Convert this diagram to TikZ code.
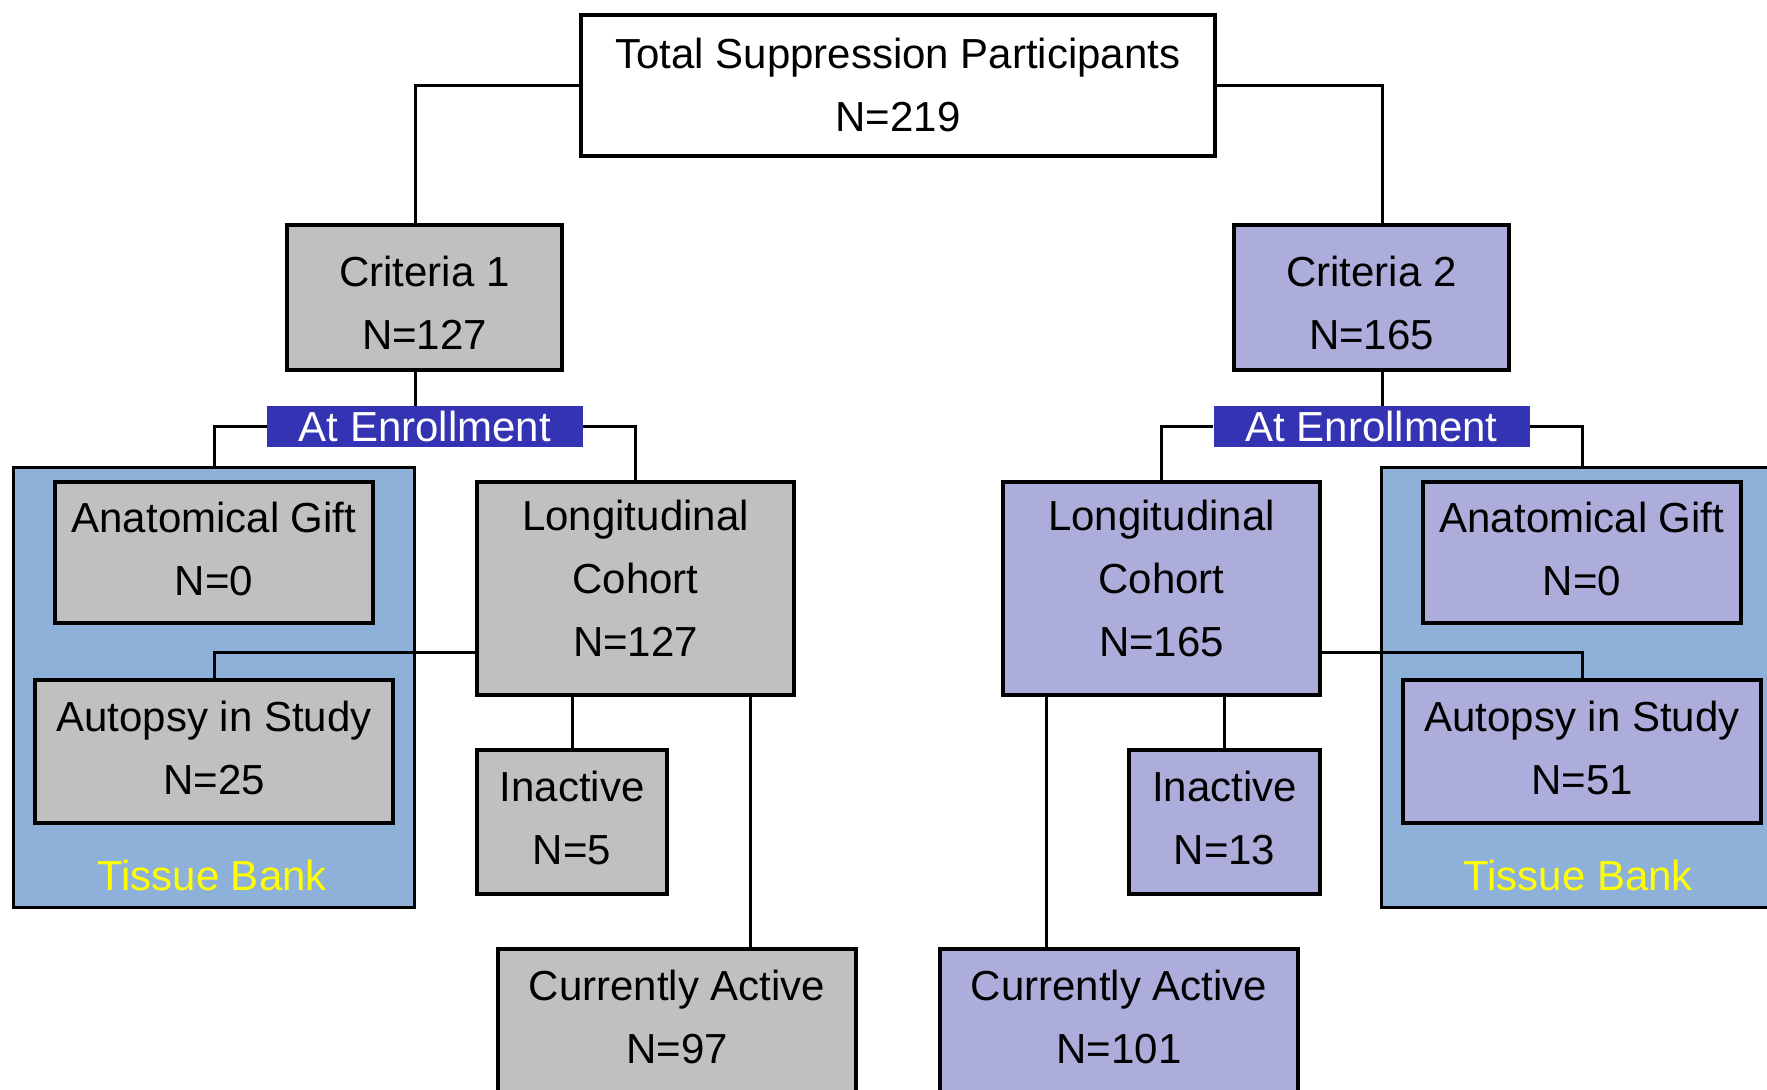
\documentclass[tikz,border=0pt]{standalone}
\usepackage{fontspec}
\setmainfont{Liberation Sans}
\newcommand\boxfont{\fontsize{21pt}{31.5pt}\selectfont}
\definecolor{boxgray}{RGB}{192,192,192}
\definecolor{boxlav}{RGB}{173,173,219}
\definecolor{tissueblue}{RGB}{142,177,218}
\definecolor{enrollblue}{RGB}{51,51,179}
\definecolor{tissueyellow}{RGB}{255,255,0}
\tikzset{
  box/.style={draw=black, line width=1.8pt, inner sep=0pt, align=center, font=\boxfont, text depth=4pt},
  graybox/.style={box, fill=boxgray},
  lavbox/.style={box, fill=boxlav},
  tallbox/.style={text depth=10pt},
  critbox/.style={text height=52pt, text depth=0pt},
  tissue/.style={draw=black, line width=1.5pt, fill=tissueblue, inner sep=0pt},
  tissuelabel/.style={text=tissueyellow, font=\boxfont, inner sep=0pt},
  enroll/.style={fill=enrollblue, text=white, font=\boxfont, inner sep=0pt, minimum width=158pt, minimum height=20.5pt},
  conn/.style={draw=black, line width=1.5pt},
}
\begin{document}
\begin{tikzpicture}[x=0.5pt,y=-0.5pt]
\useasboundingbox (0,0) rectangle (1767,1090);
\clip (0,0) rectangle (1767,1090);
% tissue bank backgrounds
\node[tissue, minimum width=200.75pt, minimum height=219.5pt] (tbL) at (214,687.5) {};
\node[tissue, minimum width=200.75pt, minimum height=219.5pt] (tbR) at (1582.5,687.5) {};
\node[tissuelabel] (tbLtext) at (212,875.5) {Tissue Bank};
\node[tissuelabel] (tbRtext) at (1578,875.5) {Tissue Bank};
% helper coordinates
\coordinate (x1) at (415,0);
\coordinate (x2) at (1382,0);
\coordinate (x3) at (750.5,0);
\coordinate (x4) at (1046,0);
\coordinate (yA) at (0,652.5);
% nodes
\node[box, fill=white, text depth=1pt, minimum width=317pt, minimum height=70.5pt] (top) at (898,85.5) {Total Suppression Participants\\N=219};
\node[graybox, critbox, minimum width=137.5pt, minimum height=72.5pt] (crit1) at (424.5,297.5) {Criteria 1\\N=127};
\node[lavbox, critbox, minimum width=137.5pt, minimum height=72.5pt] (crit2) at (1371.5,297.5) {Criteria 2\\N=165};
\node[enroll] (aeL) at (425,426.5) {At Enrollment};
\node[enroll] (aeR) at (1371.5,426.5) {At Enrollment};
% left branch
\node[graybox, minimum width=159pt, minimum height=70.5pt] (anatL) at (214,552.5) {Anatomical Gift\\N=0};
\node[graybox, tallbox, minimum width=158.5pt, minimum height=106.5pt] (longL) at (635.5,588.5) {Longitudinal\\Cohort\\N=127};
\node[graybox, minimum width=179pt, minimum height=71.5pt] (autoL) at (214,751.5) {Autopsy in Study\\N=25};
\node[graybox, minimum width=95pt, minimum height=72pt] (inL) at (572,822) {Inactive\\N=5};
\node[graybox, minimum width=179pt, minimum height=71.5pt] (caL) at (677,1020.5) {Currently Active\\N=97};
% right branch
\node[lavbox, minimum width=159pt, minimum height=70.5pt] (anatR) at (1582,552.5) {Anatomical Gift\\N=0};
\node[lavbox, tallbox, minimum width=158.5pt, minimum height=106.5pt] (longR) at (1161.5,588.5) {Longitudinal\\Cohort\\N=165};
\node[lavbox, minimum width=179pt, minimum height=71.5pt] (autoR) at (1582,751.5) {Autopsy in Study\\N=51};
\node[lavbox, minimum width=95.5pt, minimum height=72pt] (inR) at (1224.5,822) {Inactive\\N=13};
\node[lavbox, minimum width=179pt, minimum height=71.5pt] (caR) at (1119,1020.5) {Currently Active\\N=101};
% connectors
\draw[conn] (top.west) -| (x1 |- crit1.north);
\draw[conn] (top.east) -| (x2 |- crit2.north);
\draw[conn] (x1 |- crit1.south) -- (x1 |- aeL.north);
\draw[conn] (x2 |- crit2.south) -- (x2 |- aeR.north);
\draw[conn] (aeL.west) -| (anatL.north |- tbL.north);
\draw[conn] (aeL.east) -| (longL.north);
\draw[conn] (aeR.west) -| (longR.north);
\draw[conn] (aeR.east) -| (anatR.north |- tbR.north);
\draw[conn] (longL.west |- yA) -| (autoL.north);
\draw[conn] (longR.east |- yA) -| (autoR.north);
\draw[conn] (inL.north |- longL.south) -- (inL.north);
\draw[conn] (inR.north |- longR.south) -- (inR.north);
\draw[conn] (x3 |- longL.south) -- (x3 |- caL.north);
\draw[conn] (x4 |- longR.south) -- (x4 |- caR.north);
\end{tikzpicture}
\end{document}
